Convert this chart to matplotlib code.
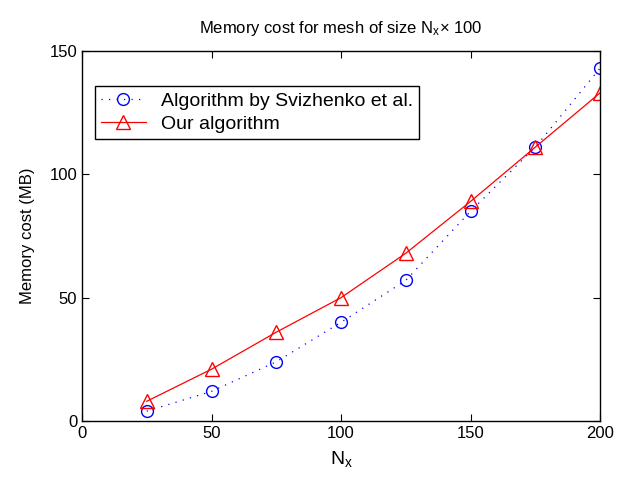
import matplotlib
matplotlib.use('Agg')
import matplotlib.pyplot as plt

# data
nx = [25, 50, 75, 100, 125, 150, 175, 200]
svizhenko = [4, 12, 24, 40, 57, 85, 111, 143]
ours = [8, 21, 36, 50, 68, 89, 111, 133]

plt.rcParams['font.family'] = ['Liberation Sans', 'DejaVu Sans']
plt.rcParams['mathtext.fontset'] = 'custom'
plt.rcParams['mathtext.rm'] = 'Liberation Sans'
plt.rcParams['mathtext.it'] = 'Liberation Sans'

fig = plt.figure(figsize=(6.33, 4.78), dpi=100)
ax = fig.add_axes([82 / 633, 57 / 478, 518 / 633, 370 / 478])

ax.plot(nx, svizhenko, linestyle=(0, (1, 5)), color='b', marker='o', markersize=8.5,
        markerfacecolor='none', markeredgewidth=1.0, linewidth=0.9,
        label='Algorithm by Svizhenko et al.')
ax.plot(nx, ours, linestyle='-', color='r', marker='^', markersize=9.5,
        markerfacecolor='none', markeredgewidth=1.0, linewidth=0.9,
        label='Our algorithm')

ax.set_xlim(0, 200)
ax.set_ylim(0, 150)
ax.set_xticks([0, 50, 100, 150, 200])
ax.set_yticks([0, 50, 100, 150])
ax.tick_params(direction='in', top=True, right=True, labelsize=12, length=5)
for s in ax.spines.values():
    s.set_linewidth(1.0)

ax.set_xlabel('N$_\\mathrm{x}$', fontsize=14, labelpad=6)
ax.set_ylabel('Memory cost (MB)', fontsize=12, labelpad=10)
ax.set_title('Memory cost for mesh of size N$_\\mathrm{x}$\u00d7 100', fontsize=12, pad=13)

leg = ax.legend(loc='upper left', bbox_to_anchor=(0.025, 0.905), fontsize=14,
                fancybox=False, edgecolor='k', framealpha=1, borderpad=0.3,
                labelspacing=0.3, handlelength=2.3, handletextpad=0.8,
                borderaxespad=0)
leg.get_frame().set_linewidth(1.0)

plt.savefig('out.png', dpi=100)
